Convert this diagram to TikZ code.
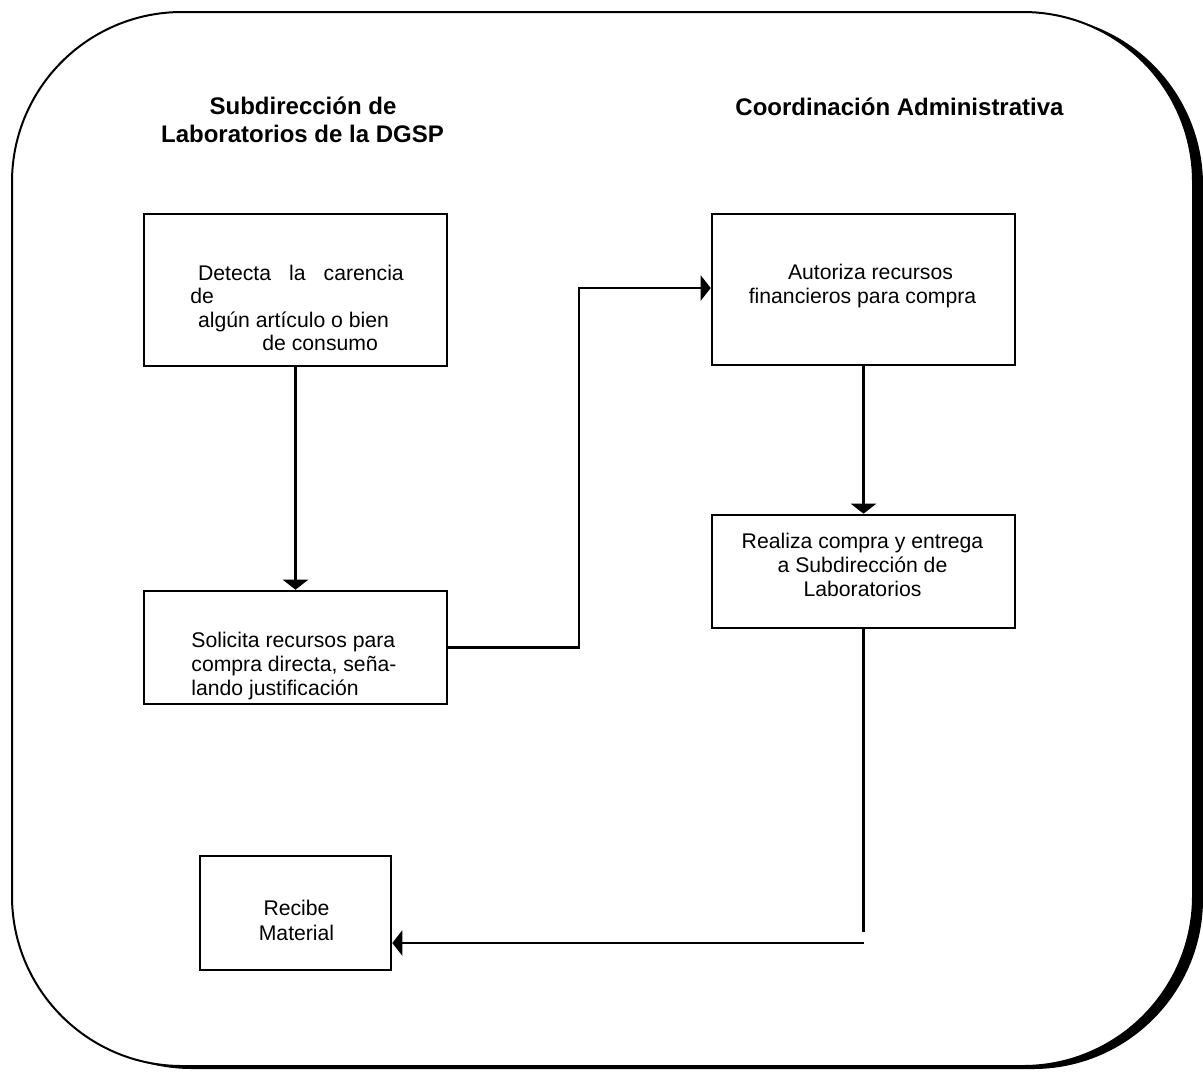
\documentclass[tikz,border=0pt]{standalone}
\usepackage{fontspec}
\setmainfont{Liberation Sans}
\usetikzlibrary{arrows.meta}
\begin{document}
\begin{tikzpicture}[x=0.5pt,y=-0.5pt,
  stepbox/.style={draw=black, line width=1.3pt, rectangle, inner sep=0pt},
  txt/.style={inner sep=0pt, font=\fontsize{10.6}{12}\selectfont},
  ttl/.style={inner sep=0pt, font=\fontsize{12}{14}\selectfont\bfseries},
  flow/.style={line width=1.3pt, -{Triangle[width=12.5pt,length=5pt]}},
  plainline/.style={line width=1.3pt},
]
\useasboundingbox (0,0) rectangle (1203,1072);
% outer frame with shadow
\fill[black, rounded corners=85pt] (22,15) rectangle (1203,1069);
\filldraw[fill=white, draw=black, line width=1pt, rounded corners=85pt] (12,12) rectangle (1193,1066);

% titles
\node[ttl, anchor=base] (t1a) at (303,114) {Subdirección de};
\node[ttl, anchor=base] (t1b) at (302.5,142) {Laboratorios de la DGSP};
\node[ttl, anchor=base] (t2) at (899.5,115) {Coordinación Administrativa};

% boxes
\node[stepbox, minimum width=151.5pt, minimum height=76pt] (b1) at (295.5,290) {};
\node[stepbox, minimum width=151.5pt, minimum height=56.5pt] (b2) at (295.5,647.5) {};
\node[stepbox, minimum width=151.5pt, minimum height=75.5pt] (b3) at (863.5,289.5) {};
\node[stepbox, minimum width=151.5pt, minimum height=56.5pt] (b4) at (863.5,571.5) {};
\node[stepbox, minimum width=95.5pt, minimum height=57pt] (b5) at (295.5,913) {};

% box texts
\node[txt, anchor=base west] (d1) at (197.7,280) {Detecta\hspace{9pt}la\hspace{9pt}carencia};
\node[txt, anchor=base west] (d2) at (190,303) {de};
\node[txt, anchor=base west] (d3) at (197.7,327) {algún artículo o bien};
\node[txt, anchor=base west] (d4) at (262,350) {de consumo};

\node[txt, anchor=base west] (s1) at (191,647) {Solicita recursos para};
\node[txt, anchor=base west] (s2) at (191,671) {compra directa, seña-};
\node[txt, anchor=base west] (s3) at (191,695) {lando justificación};

\node[txt, anchor=base] (a1) at (870.5,279) {Autoriza recursos};
\node[txt, anchor=base] (a2) at (862.5,303) {financieros para compra};

\node[txt, anchor=base] (r1) at (862.5,548) {Realiza compra y entrega};
\node[txt, anchor=base] (r2) at (862.5,572) {a Subdirección de};
\node[txt, anchor=base] (r3) at (862.5,596) {Laboratorios};

\node[txt, anchor=base] (m1) at (296.5,915) {Recibe};
\node[txt, anchor=base] (m2) at (296.5,940) {Material};

% connectors
\coordinate (k2) at (579,288);
\coordinate (k3) at (863.5,932);
\coordinate (k4) at (863.5,943);
\draw[flow] (b1.south) -- (b2.north);
\draw[flow] (b2.east) -| (k2) -- (k2 -| b3.west);
\draw[flow] (b3.south) -- (b4.north);
\draw[plainline] (b4.south) -- (k3);
\draw[flow] (k4) -- (k4 -| b5.east);
\end{tikzpicture}
\end{document}
